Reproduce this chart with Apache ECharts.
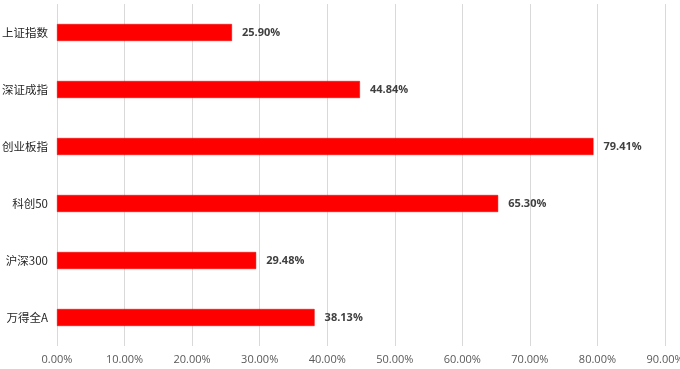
<!DOCTYPE html>
<html><head><meta charset="utf-8">
<script src="https://cdn.jsdelivr.net/npm/echarts@6/dist/echarts.min.js"></script>
<style>html,body{margin:0;padding:0;background:#fff;overflow:hidden}#c{width:680px;height:369px}</style>
</head><body><div id="c"></div>
<script>
var categories = ['上证指数','深证成指','创业板指','科创50','沪深300','万得全A'];
var values = [25.90, 44.84, 79.41, 65.30, 29.48, 38.13];
var xTicks = {min: 0, max: 90, interval: 10};

var chart = echarts.init(document.getElementById('c'), null, {renderer: 'canvas'});
chart.setOption({
  animation: false,
  backgroundColor: '#fff',
  grid: {left: 57, right: 15, top: 4, bottom: 23, containLabel: false, outerBoundsMode: 'none'},
  xAxis: {
    type: 'value', min: xTicks.min, max: xTicks.max, interval: xTicks.interval,
    axisLine: {show: false}, axisTick: {show: false},
    splitLine: {show: true, lineStyle: {color: '#d9d9d9', width: 1}},
    axisLabel: {formatter: function(v){return v.toFixed(2) + '%';}, color: '#595959', fontSize: 11, margin: 8, fontFamily: 'Open Sans, sans-serif', hideOverlap: false},
  },
  yAxis: {
    type: 'category', data: categories, inverse: true,
    axisLine: {show: false}, axisTick: {show: false},
    axisLabel: {color: '#262626', fontSize: 11.5, margin: 9, fontFamily: '"Noto Sans CJK SC", sans-serif'}
  },
  series: [{
    type: 'bar', data: values, barWidth: 17,
    itemStyle: {color: '#ff0000', borderColor: '#e60000', borderWidth: 0.5},
    label: {show: true, position: 'right', distance: 10, formatter: function(p){return p.value.toFixed(2) + '%';},
      color: '#404040', fontSize: 11, fontWeight: 'bold', fontFamily: 'Open Sans, sans-serif'}
  }]
});
</script></body></html>
